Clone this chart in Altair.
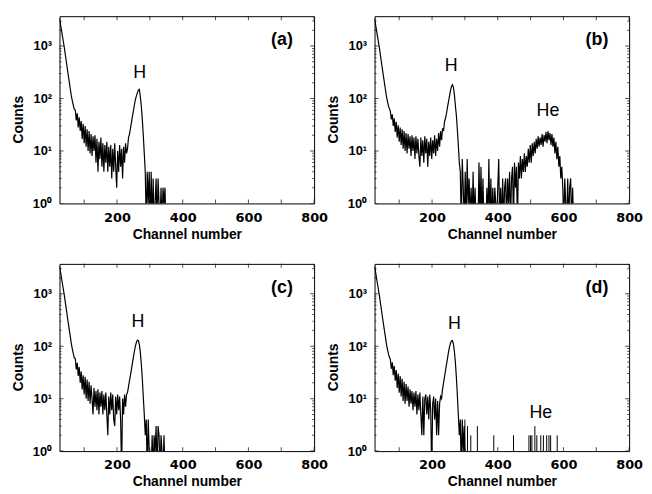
import altair as alt
import pandas as pd

# ---------------- data ----------------
CH_START = 25
CH_STEP = 3

counts_a = [3400, 2600, 1990, 1530, 1180, 900, 660, 490, 360, 268, 200, 150, 112, 90, 74, 62,
            60, 38, 52, 28, 44, 24, 37, 17, 33, 14, 30, 12, 26, 10, 24, 9, 21, 8, 19, 10,
            20, 6, 17, 4, 15, 7, 18, 5, 14, 4, 13, 6, 15, 4, 12, 5, 13, 3, 11, 4,
            14, 5, 2, 10, 4, 13, 5, 11, 3, 12, 6, 14, 9, 11, 18, 21, 27, 35, 46, 58,
            76, 95, 112, 128, 145, 150, 108, 72, 40, 20, 9, 4, 0, 4, 1, 4, 0, 4, 0, 3,
            0, 1, 3, 0, 3, 1, 0, 2, 0, 2, 1, 2, 0]

counts_b = [3400, 2600, 1990, 1530, 1180, 900, 660, 490, 360, 268, 200, 150, 112, 90, 74, 64,
            58, 40, 50, 30, 42, 23, 36, 18, 31, 15, 28, 13, 26, 11, 24, 10, 22, 9, 21, 11,
            19, 8, 20, 10, 18, 7, 19, 9, 17, 8, 5, 18, 8, 16, 6, 19, 9, 17, 5, 15,
            8, 18, 7, 16, 9, 20, 8, 17, 10, 22, 12, 24, 16, 27, 24, 36, 42, 52, 68, 86,
            110, 140, 168, 183, 165, 120, 74, 48, 26, 13, 6, 4, 0, 7, 2, 0, 4, 0, 7, 1,
            3, 0, 2, 0, 4, 0, 2, 0, 1, 0, 6, 0, 5, 0, 3, 0, 1, 0, 2, 0,
            7, 0, 3, 0, 2, 0, 2, 1, 0, 2, 7, 0, 2, 0, 3, 0, 2, 3, 0, 3,
            1, 4, 0, 3, 5, 0, 6, 2, 5, 0, 6, 3, 8, 3, 7, 4, 9, 4, 8, 5,
            11, 6, 13, 6, 14, 8, 15, 9, 17, 11, 19, 12, 18, 13, 21, 12, 20, 15, 23, 14,
            24, 16, 22, 13, 21, 12, 18, 9, 15, 7, 12, 5, 8, 3, 5, 2, 0, 3, 1, 0,
            3, 0, 2, 3, 0, 2, 0, 0]

counts_c = [3400, 2600, 1990, 1530, 1180, 900, 660, 490, 360, 268, 200, 150, 112, 88, 72, 60,
            58, 36, 48, 27, 40, 20, 33, 15, 28, 12, 26, 10, 23, 9, 21, 8, 18, 10, 5, 16,
            7, 14, 6, 15, 5, 13, 7, 14, 5, 12, 6, 13, 5, 2, 11, 5, 13, 6, 12, 4,
            3, 11, 5, 12, 6, 11, 4, 0, 10, 5, 12, 7, 12, 13, 17, 22, 28, 36, 48, 62,
            80, 100, 118, 130, 128, 108, 76, 46, 24, 11, 5, 2, 4, 0, 4, 1, 0, 0, 2, 0,
            2, 1, 3, 0, 3, 2, 0, 2, 1, 0, 2, 0, 0]

counts_d = [3400, 2600, 1990, 1530, 1180, 900, 660, 490, 360, 268, 200, 150, 112, 89, 73, 62,
            57, 37, 49, 28, 42, 22, 35, 16, 30, 13, 27, 11, 24, 9, 21, 8, 19, 9, 17, 7,
            15, 8, 14, 6, 13, 7, 14, 5, 12, 6, 13, 5, 2, 11, 2, 10, 12, 5, 11, 4,
            12, 6, 0, 8, 11, 4, 10, 2, 9, 2, 8, 11, 10, 15, 20, 26, 34, 45, 58, 76,
            96, 114, 126, 128, 110, 80, 50, 26, 12, 5, 2, 4, 0, 4, 1, 3, 0, 0]

# isolated counts in the tail of panel (d)
spike_d_channels = [300, 308, 318, 338, 388, 397, 448, 495, 500, 504, 513, 519, 531, 539, 549, 556, 561, 581, 596]
spike_d_counts = [4, 3, 2, 3, 2, 1, 2, 2, 2, 2, 3, 2, 2, 2, 2, 2, 2, 2, 1]

panel_labels = ["(a)", "(b)", "(c)", "(d)"]

# peak annotations: panel, text, channel, counts
annot_panel = ["(a)", "(b)", "(b)", "(c)", "(d)", "(d)"]
annot_text = ["H", "H", "He", "H", "H", "He"]
annot_channel = [269, 258, 553, 264, 268, 531]
annot_counts = [305, 408, 58, 282, 265, 5.3]

LABEL_CHANNEL = 702
LABEL_COUNTS = 1300

# axis definitions
X_MIN, X_MAX = 25, 800
Y_MIN, Y_MAX = 1, 3700
x_label_values = [200, 400, 600, 800]
x_tick_values = [100, 200, 300, 400, 500, 600, 700, 800]
y_label_values = [1, 10, 100, 1000]
y_label_texts = ["10\u2070", "10\u00b9", "10\u00b2", "10\u00b3"]
y_minor_values = [2, 3, 4, 5, 6, 7, 8, 9, 20, 30, 40, 50, 60, 70, 80, 90,
                  200, 300, 400, 500, 600, 700, 800, 900, 2000, 3000]

# ---------------- chart ----------------
xs = alt.Scale(domain=[X_MIN, X_MAX], nice=False, zero=False)
ys = alt.Scale(type="log", domain=[Y_MIN, Y_MAX], nice=False)

label_expr = ""
for v, t in zip(y_label_values, y_label_texts):
    label_expr += f"datum.value == {v} ? '{t}' : "
label_expr += "''"

x_axis = alt.Axis(values=x_label_values, domain=False, ticks=False, grid=False,
                  labelFont="DejaVu Sans", labelFontWeight="bold", labelFontSize=13,
                  labelPadding=8, labelFlush=False, labelOverlap=False, labelColor="black",
                  title="Channel number", titleFont="Liberation Sans", titleFontSize=14,
                  titleFontWeight="bold", titlePadding=3, titleColor="black")
y_axis = alt.Axis(values=y_label_values, labelExpr=label_expr, domain=False, ticks=False,
                  grid=False, labelFont="Liberation Sans", labelFontWeight="bold",
                  labelFontSize=13, labelPadding=8, labelColor="black",
                  title="Counts", titleFont="Liberation Sans", titleFontSize=14,
                  titleFontWeight="bold", titlePadding=7, titleColor="black", titleY=104)

X_ENC = alt.X("channel:Q", scale=xs, axis=x_axis)
Y_ENC = alt.Y("yv:Q", scale=ys, axis=y_axis)

xtick_df = pd.DataFrame([{"channel": c, "yv": e} for c in x_tick_values for e in (Y_MIN, Y_MAX)])
ymaj_df = pd.DataFrame([{"yv": v, "channel": e} for v in y_label_values for e in (X_MIN, X_MAX)])
ymin_df = pd.DataFrame([{"yv": v, "channel": e} for v in y_minor_values for e in (X_MIN, X_MAX)])
annot_df = pd.DataFrame({"panel": annot_panel, "text": annot_text,
                         "channel": annot_channel, "yv": annot_counts})


def make_panel(counts, label, spike_ch=None, spike_ct=None):
    df = pd.DataFrame({"channel": [CH_START + CH_STEP * i for i in range(len(counts))],
                       "count": counts})
    line = alt.Chart(df).transform_calculate(
        yv="max(datum.count, 0.4)"
    ).mark_line(color="black", strokeWidth=1.2, clip=True).encode(x=X_ENC, y=Y_ENC)
    layers = [line]
    if spike_ch:
        sdf = pd.DataFrame({"channel": spike_ch, "yv": spike_ct})
        spikes = alt.Chart(sdf).transform_calculate(base=str(Y_MIN)).mark_rule(
            color="black", strokeWidth=1, clip=True
        ).encode(x=X_ENC, y=Y_ENC, y2="base:Q")
        layers.append(spikes)
    xt = alt.Chart(xtick_df).mark_tick(orient="vertical", size=8, thickness=1,
                                       color="black", clip=True).encode(x=X_ENC, y=Y_ENC)
    ytM = alt.Chart(ymaj_df).mark_tick(orient="horizontal", size=8, thickness=1,
                                       color="black", clip=True).encode(x=X_ENC, y=Y_ENC)
    ytm = alt.Chart(ymin_df).mark_tick(orient="horizontal", size=4, thickness=1,
                                       color="black", clip=True).encode(x=X_ENC, y=Y_ENC)
    txt = alt.Chart(annot_df).transform_filter(
        alt.datum.panel == label
    ).mark_text(font="Liberation Sans", fontSize=18, color="black", baseline="middle").encode(
        x=X_ENC, y=Y_ENC, text="text:N")
    lab_df = pd.DataFrame({"channel": [LABEL_CHANNEL], "yv": [LABEL_COUNTS], "text": [label]})
    lab = alt.Chart(lab_df).mark_text(font="Liberation Sans", fontSize=18, fontWeight="bold",
                                      color="black", baseline="middle").encode(
        x=X_ENC, y=Y_ENC, text="text:N")
    layers += [xt, ytM, ytm, txt, lab]
    return alt.layer(*layers).properties(width=257, height=189)


pa = make_panel(counts_a, panel_labels[0])
pb = make_panel(counts_b, panel_labels[1])
pc = make_panel(counts_c, panel_labels[2])
pd_ = make_panel(counts_d, panel_labels[3], spike_d_channels, spike_d_counts)

chart = alt.concat(pa, pb, pc, pd_, columns=2, spacing=61, bounds="flush").properties(
    padding={"left": 3, "top": 5, "right": 0, "bottom": 0},
    background="white",
).configure_view(stroke="black", strokeWidth=1)

chart.save("out.html", embed_options={"renderer": "svg", "actions": False})
